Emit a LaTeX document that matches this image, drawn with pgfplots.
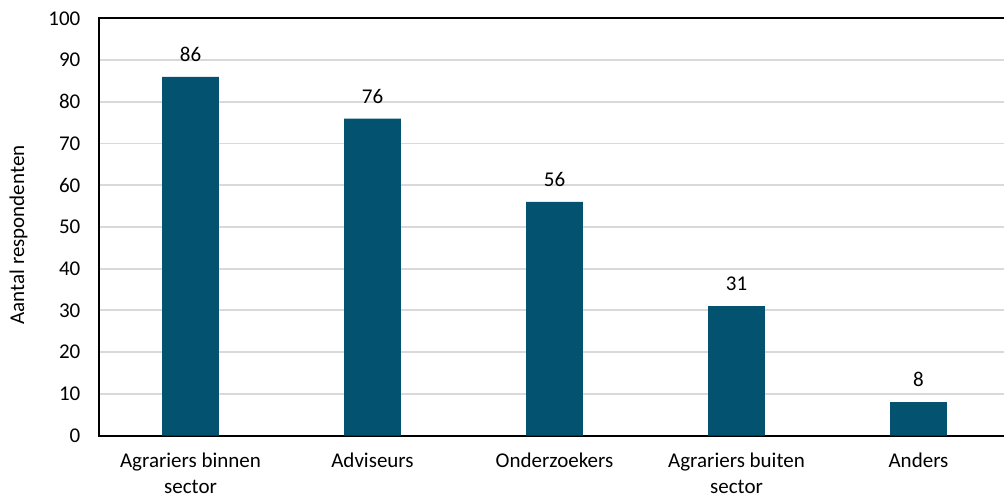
\documentclass[border=0pt]{standalone}
\usepackage{pgfplots}
\pgfplotsset{compat=1.18}
\usepackage{fontspec}
\setmainfont{Carlito}
\definecolor{barblue}{HTML}{035270}
\definecolor{gridgray}{HTML}{D9D9D9}

\begin{document}
\fontsize{21bp}{26bp}\selectfont
\begin{tikzpicture}
\useasboundingbox (-99.5bp,-63.5bp) rectangle (904.5bp,435.5bp);
\begin{axis}[
  at={(0,0)}, anchor=south west,
  scale only axis,
  width=910bp, height=417bp,
  xmin=-0.5, xmax=4.5,
  ymin=0, ymax=100,
  ytick={0,10,...,100},
  xtick={0,1,2,3,4},
  xticklabels={{Agrariers binnen\\sector},Adviseurs,Onderzoekers,{Agrariers buiten\\sector},Anders},
  major tick length=0pt,
  ymajorgrids,
  major grid style={gridgray, line width=1.8bp},
  axis line style={black, line width=2bp},
  /pgf/number format/assume math mode=true,
  tick label style={font=\fontsize{21bp}{26bp}\selectfont},
  yticklabel style={inner sep=0pt, anchor=east, xshift=-19bp},
  xticklabel style={align=center, inner sep=0pt, anchor=north, yshift=-17bp},
  ylabel={Aantal respondenten},
  ylabel style={at={(axis description cs:0,0.481)}, anchor=center, yshift=81bp, font=\fontsize{21bp}{26bp}\selectfont},
  nodes near coords,
  every node near coord/.append style={font=\fontsize{21bp}{26bp}\selectfont, inner sep=0pt, anchor=south, yshift=15bp, black},
]
\addplot[ybar, bar width=0.313, fill=barblue, draw=none] coordinates {
  (0,86) (1,76) (2,56) (3,31) (4,8)
};
\end{axis}
\end{tikzpicture}
\end{document}
